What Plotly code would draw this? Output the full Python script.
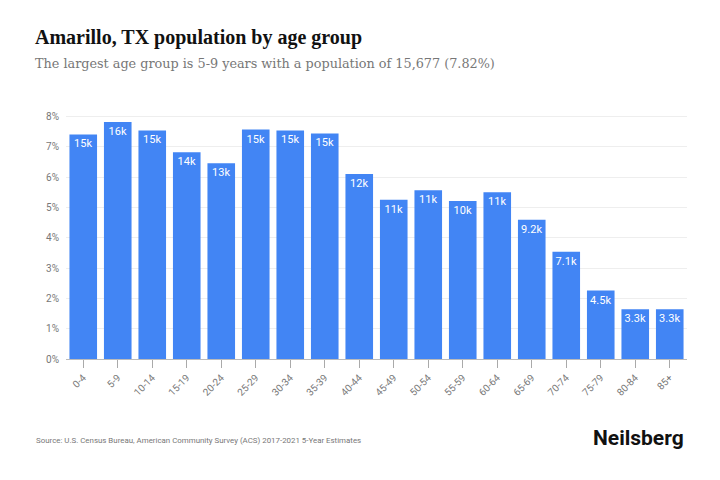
import plotly.graph_objects as go

age_groups = ["0-4", "5-9", "10-14", "15-19", "20-24", "25-29", "30-34", "35-39", "40-44",
              "45-49", "50-54", "55-59", "60-64", "65-69", "70-74", "75-79", "80-84", "85+"]
share_pct = [7.41, 7.82, 7.54, 6.82, 6.46, 7.57, 7.54, 7.44, 6.10,
             5.25, 5.57, 5.21, 5.50, 4.59, 3.54, 2.26, 1.64, 1.64]
bar_labels = ["15k", "16k", "15k", "14k", "13k", "15k", "15k", "15k", "12k",
              "11k", "11k", "10k", "11k", "9.2k", "7.1k", "4.5k", "3.3k", "3.3k"]
y_ticks = [0, 1, 2, 3, 4, 5, 6, 7, 8]
y_tick_text = ["0%", "1%", "2%", "3%", "4%", "5%", "6%", "7%", "8%"]

L, T, PW, PH = 66, 115, 621, 244

fig = go.Figure(go.Bar(
    x=age_groups, y=share_pct, text=bar_labels,
    marker=dict(color="#4285F4", line=dict(width=0)),
    textposition="inside", insidetextanchor="end",
    textfont=dict(color="white", size=11, family="Roboto"),
    textangle=0, constraintext="none",
))

fig.update_layout(
    width=720, height=480,
    margin=dict(l=L, r=720 - L - PW, t=T, b=480 - T - PH),
    paper_bgcolor="white", plot_bgcolor="white",
    bargap=0.2, showlegend=False,
    xaxis=dict(tickangle=-45, tickfont=dict(size=10, color="#777", family="Roboto"),
               ticks="outside", ticklen=8, tickcolor="#aaa", showgrid=False,
               showline=True, linecolor="#bbb", linewidth=1),
    yaxis=dict(range=[0, 8.05], tickvals=y_ticks, ticktext=y_tick_text,
               tickfont=dict(size=10, color="#777", family="Roboto"),
               showgrid=True, gridcolor="#eee", zeroline=False, ticks="",
               ticklabelstandoff=6),
)

def px(xp):
    return (xp - L) / PW

def py(yp):
    return 1 - (yp - T) / PH

fig.add_annotation(text="<b>Amarillo, TX population by age group</b>", xref="paper", yref="paper",
                   x=px(33), y=py(38), xanchor="left", yanchor="middle",
                   showarrow=False, font=dict(family="Liberation Serif", size=20, color="#111"))
fig.add_annotation(text="The largest age group is 5-9 years with a population of 15,677 (7.82%)",
                   xref="paper", yref="paper",
                   x=px(33), y=py(64), xanchor="left", yanchor="middle",
                   showarrow=False, font=dict(family="DejaVu Serif", size=12.8, color="#777"))
fig.add_annotation(text="Source: U.S. Census Bureau, American Community Survey (ACS) 2017-2021 5-Year Estimates",
                   xref="paper", yref="paper",
                   x=px(34), y=py(440), xanchor="left", yanchor="middle",
                   showarrow=False, font=dict(family="Roboto", size=7.9, color="#777"))
fig.add_annotation(text="<b>Neilsberg</b>", xref="paper", yref="paper",
                   x=px(686), y=py(438), xanchor="right", yanchor="middle",
                   showarrow=False, font=dict(family="Roboto", size=21, color="#111"))

fig.write_html("out.html")
